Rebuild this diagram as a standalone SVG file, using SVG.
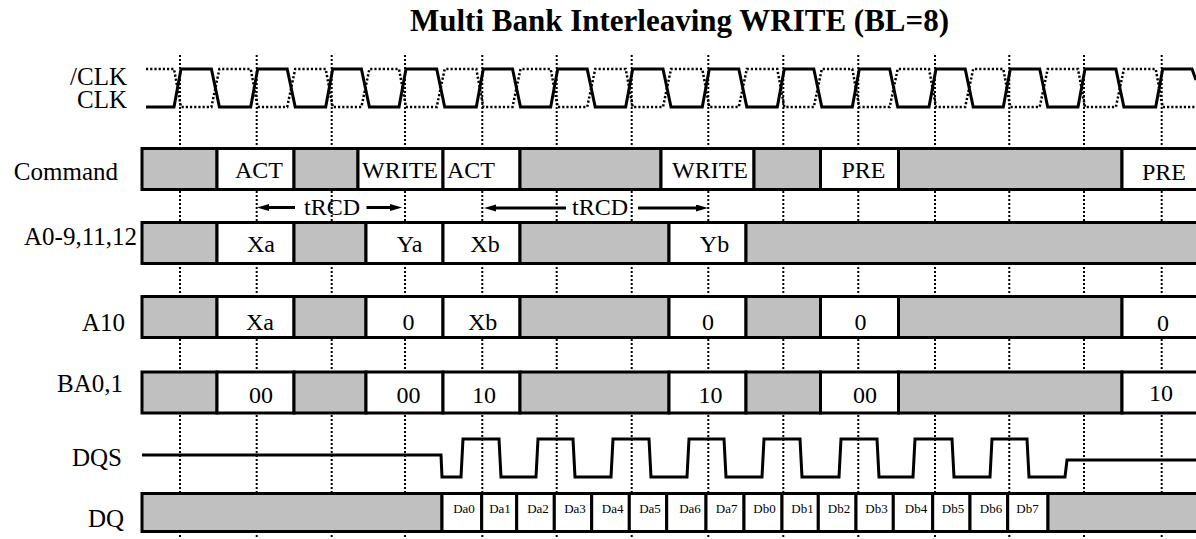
<svg xmlns="http://www.w3.org/2000/svg" width="1196" height="539" viewBox="0 0 1196 539">
<style>
text{font-family:"Liberation Serif","Times New Roman",serif;fill:#000}
.title{font-size:31px;font-weight:bold}
.lbl{font-size:25px;text-anchor:end}
.cell{font-size:24px;text-anchor:middle}
.dq{font-size:13px;text-anchor:middle}
.g{fill:#c0c0c0;stroke:#000;stroke-width:3}
.w{fill:#fff;stroke:#000;stroke-width:3}
.grid{stroke:#000;stroke-width:2;stroke-dasharray:2 2;fill:none}
.wave{fill:none;stroke:#000;stroke-width:3}
.wavedot{fill:none;stroke:#000;stroke-width:2.5;stroke-dasharray:2.2 2}
.arr{stroke:#000;stroke-width:3;marker-end:url(#ah)}
</style>
<defs>
<marker id="ah" markerUnits="userSpaceOnUse" markerWidth="12" markerHeight="8" refX="4" refY="3.5" orient="auto">
<path d="M0,0 L12,3.5 L0,7 Z" fill="#000"/>
</marker>
</defs>
<rect x="0" y="0" width="1196" height="539" fill="#fff"/>
<text class="title" x="410" y="31">Multi Bank Interleaving WRITE (BL=8)</text>

<g id="grid">
<path class="grid" d="M180,55V539M256.7,55V539M331.7,55V539M405,55V539M482.3,55V539M556.7,55V539M631.7,55V539M708.3,55V539M783.3,55V539M858.3,55V539M935,55V539M1009.3,55V539M1084,55V539M1161.7,55V539"/>
</g>

<g id="clk">
<text class="lbl" x="127" y="85">/CLK</text>
<text class="lbl" x="127" y="108">CLK</text>
<path class="wavedot" d="M146,69 L174,69 L181,107 L211.4,107 L219.4,69 L250.7,69 L257.7,107 L287.2,107 L295.2,69 L325.7,69 L332.7,107 L361.4,107 L369.4,69 L399,69 L406,107 L436.7,107 L444.7,69 L476.3,69 L483.3,107 L512.5,107 L520.5,69 L550.7,69 L557.7,107 L587.2,107 L595.2,69 L625.7,69 L632.7,107 L663,107 L671,69 L702.3,69 L709.3,107 L738.8,107 L746.8,69 L777.3,69 L784.3,107 L813.8,107 L821.8,69 L852.3,69 L859.3,107 L889.7,107 L897.7,69 L929,69 L936,107 L965.2,107 L973.2,69 L1003.3,69 L1010.3,107 L1039.7,107 L1047.7,69 L1078,69 L1085,107 L1115.9,107 L1123.9,69 L1155.7,69 L1162.7,107 L1196,107"/>
<path class="wave" d="M146,107 L174,107 L181,69 L211.4,69 L219.4,107 L250.7,107 L257.7,69 L287.2,69 L295.2,107 L325.7,107 L332.7,69 L361.4,69 L369.4,107 L399,107 L406,69 L436.7,69 L444.7,107 L476.3,107 L483.3,69 L512.5,69 L520.5,107 L550.7,107 L557.7,69 L587.2,69 L595.2,107 L625.7,107 L632.7,69 L663,69 L671,107 L702.3,107 L709.3,69 L738.8,69 L746.8,107 L777.3,107 L784.3,69 L813.8,69 L821.8,107 L852.3,107 L859.3,69 L889.7,69 L897.7,107 L929,107 L936,69 L965.2,69 L973.2,107 L1003.3,107 L1010.3,69 L1039.7,69 L1047.7,107 L1078,107 L1085,69 L1115.9,69 L1123.9,107 L1155.7,107 L1162.7,69 L1192,69 L1196,80"/>
</g>

<g id="command">
<text class="lbl" x="118" y="180">Command</text>
<rect class="g" x="142" y="148.5" width="75" height="41"/>
<rect class="w" x="217" y="148.5" width="77" height="41"/>
<rect class="g" x="294" y="148.5" width="64" height="41"/>
<rect class="w" x="358" y="148.5" width="85" height="41"/>
<rect class="w" x="443" y="148.5" width="77" height="41"/>
<rect class="g" x="520" y="148.5" width="141" height="41"/>
<rect class="w" x="661" y="148.5" width="93" height="41"/>
<rect class="g" x="754" y="148.5" width="66.5" height="41"/>
<rect class="w" x="820.5" y="148.5" width="78" height="41"/>
<rect class="g" x="898.5" y="148.5" width="223.5" height="41"/>
<rect class="w" x="1122" y="148.5" width="80" height="41"/>
<text class="cell" x="259" y="178">ACT</text>
<text class="cell" x="400" y="178">WRITE</text>
<text class="cell" x="471" y="178">ACT</text>
<text class="cell" x="710" y="178">WRITE</text>
<text class="cell" x="863.5" y="178">PRE</text>
<text class="cell" x="1164" y="180">PRE</text>
</g>

<g id="addr">
<text class="lbl" x="137" y="245">A0-9,11,12</text>
<rect class="g" x="142" y="222.5" width="75" height="41"/>
<rect class="w" x="217" y="222.5" width="77" height="41"/>
<rect class="g" x="294" y="222.5" width="72" height="41"/>
<rect class="w" x="366" y="222.5" width="77" height="41"/>
<rect class="w" x="443" y="222.5" width="77" height="41"/>
<rect class="g" x="520" y="222.5" width="149" height="41"/>
<rect class="w" x="669" y="222.5" width="77" height="41"/>
<rect class="g" x="746" y="222.5" width="456" height="41"/>
<text class="cell" x="261" y="252">Xa</text>
<text class="cell" x="409.5" y="252">Ya</text>
<text class="cell" x="485" y="252">Xb</text>
<text class="cell" x="714.5" y="252">Yb</text>
</g>

<g id="a10">
<text class="lbl" x="125" y="331">A10</text>
<rect class="g" x="142" y="296.5" width="75" height="41"/>
<rect class="w" x="217" y="296.5" width="77" height="41"/>
<rect class="g" x="294" y="296.5" width="72" height="41"/>
<rect class="w" x="366" y="296.5" width="77" height="41"/>
<rect class="w" x="443" y="296.5" width="77" height="41"/>
<rect class="g" x="520" y="296.5" width="149" height="41"/>
<rect class="w" x="669" y="296.5" width="77" height="41"/>
<rect class="g" x="746" y="296.5" width="74.5" height="41"/>
<rect class="w" x="820.5" y="296.5" width="78" height="41"/>
<rect class="g" x="898.5" y="296.5" width="223.5" height="41"/>
<rect class="w" x="1122" y="296.5" width="80" height="41"/>
<text class="cell" x="260" y="330">Xa</text>
<text class="cell" x="408.5" y="330">0</text>
<text class="cell" x="482.6" y="330">Xb</text>
<text class="cell" x="708" y="330">0</text>
<text class="cell" x="860.5" y="330">0</text>
<text class="cell" x="1163" y="331">0</text>
</g>

<g id="ba">
<text class="lbl" x="123" y="392">BA0,1</text>
<rect class="g" x="142" y="372" width="75" height="41"/>
<rect class="w" x="217" y="372" width="77" height="41"/>
<rect class="g" x="294" y="372" width="72" height="41"/>
<rect class="w" x="366" y="372" width="77" height="41"/>
<rect class="w" x="443" y="372" width="77" height="41"/>
<rect class="g" x="520" y="372" width="149" height="41"/>
<rect class="w" x="669" y="372" width="77" height="41"/>
<rect class="g" x="746" y="372" width="74.5" height="41"/>
<rect class="w" x="820.5" y="372" width="78" height="41"/>
<rect class="g" x="898.5" y="372" width="223.5" height="41"/>
<rect class="w" x="1122" y="372" width="80" height="41"/>
<text class="cell" x="261" y="403">00</text>
<text class="cell" x="408.6" y="403">00</text>
<text class="cell" x="484" y="403">10</text>
<text class="cell" x="710.5" y="403">10</text>
<text class="cell" x="865" y="403">00</text>
<text class="cell" x="1161" y="401">10</text>
</g>

<g id="dqs">
<text class="lbl" x="122" y="466">DQS</text>
<path class="wave" d="M142,455 H441 L442,477 H461 L463,439 H499 L501,477 H536 L538,439 H573 L575,477 H611 L613,439 H649 L651,477 H687 L689,439 H724 L726,477 H762 L764,439 H800 L802,477 H839 L841,439 H877 L879,477 H913 L915,439 H952 L954,477 H990 L992,439 H1027 L1029,477 H1065 L1067,460 H1196"/>
</g>

<g id="dq">
<text class="lbl" x="124" y="527">DQ</text>
<rect class="g" x="142" y="493.5" width="300" height="38"/>
<rect class="w" x="442" y="493.5" width="39.7" height="38"/>
<rect class="w" x="481.7" y="493.5" width="35" height="38"/>
<rect class="w" x="516.7" y="493.5" width="37.6" height="38"/>
<rect class="w" x="554.3" y="493.5" width="37.4" height="38"/>
<rect class="w" x="591.7" y="493.5" width="37.6" height="38"/>
<rect class="w" x="629.3" y="493.5" width="37.4" height="38"/>
<rect class="w" x="666.7" y="493.5" width="39.3" height="38"/>
<rect class="w" x="706" y="493.5" width="38" height="38"/>
<rect class="w" x="744" y="493.5" width="38" height="38"/>
<rect class="w" x="782" y="493.5" width="36.3" height="38"/>
<rect class="w" x="818.3" y="493.5" width="37.7" height="38"/>
<rect class="w" x="856" y="493.5" width="37.3" height="38"/>
<rect class="w" x="893.3" y="493.5" width="39.4" height="38"/>
<rect class="w" x="932.7" y="493.5" width="37.3" height="38"/>
<rect class="w" x="970" y="493.5" width="37.7" height="38"/>
<rect class="w" x="1007.7" y="493.5" width="40.3" height="38"/>
<rect class="g" x="1048" y="493.5" width="154" height="38"/>
<text class="dq" x="464" y="513">Da0</text>
<text class="dq" x="500" y="513">Da1</text>
<text class="dq" x="538" y="513">Da2</text>
<text class="dq" x="575" y="513">Da3</text>
<text class="dq" x="612.7" y="513">Da4</text>
<text class="dq" x="650" y="513">Da5</text>
<text class="dq" x="690" y="513">Da6</text>
<text class="dq" x="726.7" y="513">Da7</text>
<text class="dq" x="764.5" y="513">Db0</text>
<text class="dq" x="802.5" y="513">Db1</text>
<text class="dq" x="839" y="513">Db2</text>
<text class="dq" x="876.5" y="513">Db3</text>
<text class="dq" x="916" y="513">Db4</text>
<text class="dq" x="953" y="513">Db5</text>
<text class="dq" x="991" y="513">Db6</text>
<text class="dq" x="1027.5" y="513">Db7</text>
</g>

<g id="connectors">
<line class="arr" x1="295" y1="207.5" x2="265" y2="207.5"/>
<line class="arr" x1="366.5" y1="207.5" x2="394" y2="207.5"/>
<line class="arr" x1="566" y1="208" x2="492" y2="208"/>
<line class="arr" x1="638" y1="208" x2="700" y2="208"/>
<text class="cell" x="332" y="215">tRCD</text>
<text class="cell" x="600" y="215">tRCD</text>
</g>
</svg>
